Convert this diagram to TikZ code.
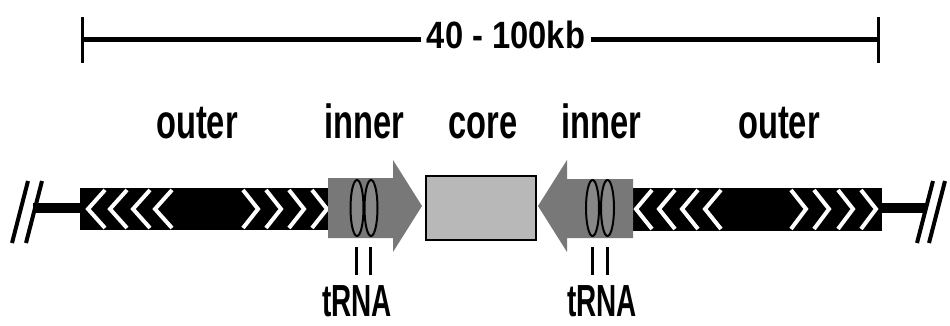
\documentclass[tikz,border=0pt]{standalone}
\usepackage{fontspec}
\newfontfamily\labfont{Liberation Sans}[FakeStretch=0.68]
\newfontfamily\barfont{Liberation Sans}[FakeStretch=0.86]
\newfontfamily\trnafont{Liberation Sans}[FakeStretch=0.62]
\definecolor{arrowgrey}{RGB}{120,120,120}
\definecolor{ovalgrey}{RGB}{135,135,135}
\definecolor{coregrey}{RGB}{184,184,184}
\begin{document}
\begin{tikzpicture}[x=1pt,y=-1pt,
  lab/.style={anchor=base,inner sep=0pt,font=\labfont\bfseries\fontsize{48}{48}\selectfont},
  trna/.style={anchor=base,inner sep=0pt,font=\trnafont\bfseries\fontsize{45}{45}\selectfont},
  bar/.style={line width=5pt},
  tick/.style={line width=3pt},
  chev/.style={white,line width=4pt},
  outerbox/.style={fill=black},
  slash/.style={line width=4pt},
  stub/.style={line width=10pt},
  inarrow/.style={fill=arrowgrey},
  oval/.style={fill=ovalgrey,draw=black,line width=2pt},
  trnatick/.style={line width=3pt}]
\useasboundingbox (0,0) rectangle (950,325);

% scale bar
\node[anchor=base,inner xsep=6pt,inner ysep=0pt,font=\barfont\bfseries\fontsize{38}{38}\selectfont] (kb) at (506,48) {40 - 100kb};
\coordinate (barL) at (82,39);
\coordinate (barR) at (878,39);
\draw[bar] (barL) -- (barL -| kb.west);
\draw[bar] (barR -| kb.east) -- (barR);
\draw[tick] (82,17) -- (82,63);
\draw[tick] (878,17) -- (878,63);

% labels
\node[lab] (outerL) at (197,138) {outer};
\node[lab] (innerL) at (364,138) {inner};
\node[lab] (core)   at (483,138) {core};
\node[lab] (innerR) at (601,138) {inner};
\node[lab] (outerR) at (779,138) {outer};

% left end
\draw[slash] (12,243) -- (28,181);
\draw[slash] (26,243) -- (42,181);
\draw[stub] (33,208) -- (82,208);
% right end
\draw[stub] (880,208) -- (925,208);
\draw[slash] (917,243) -- (933,181);
\draw[slash] (929,243) -- (945,181);

% left outer
\fill[outerbox] (80,188) rectangle (329,230);
\foreach \a in {88,110,133,155}
  \draw[chev] (\a+17,190) -- (\a,209) -- (\a+17,228);
\foreach \a in {243,266,289,312}
  \draw[chev] (\a,190) -- (\a+15,209) -- (\a,228);
% right outer
\fill[outerbox] (632,188) rectangle (882,231);
\foreach \a in {636,659,682,705}
  \draw[chev] (\a+16,190) -- (\a,209) -- (\a+16,229);
\foreach \a in {791,814,838,861}
  \draw[chev] (\a,190) -- (\a+15,209) -- (\a,229);

% inner arrows
\fill[inarrow] (328,178) -- (393,178) -- (393,160) -- (422,206) -- (393,252) -- (393,238) -- (328,238) -- cycle;
\fill[inarrow] (633,179) -- (567,179) -- (567,160) -- (538,206) -- (567,252) -- (567,238) -- (633,238) -- cycle;

% core
\draw[fill=coregrey,line width=2pt] (425.5,175.5) rectangle (535.5,240);

% tRNA ovals
\draw[oval] (357,208) ellipse [x radius=6.5, y radius=28];
\draw[oval] (371,208) ellipse [x radius=6.5, y radius=28];
\draw[oval] (592.5,208) ellipse [x radius=6.5, y radius=28];
\draw[oval] (607.5,208) ellipse [x radius=6.5, y radius=28];

% tRNA ticks and labels
\draw[trnatick] (356,247) -- (356,275);
\draw[trnatick] (370,247) -- (370,275);
\draw[trnatick] (592,247) -- (592,275);
\draw[trnatick] (607,247) -- (607,275);
\node[trna] (trnaL) at (357,316) {tRNA};
\node[trna] (trnaR) at (602,316) {tRNA};
\end{tikzpicture}
\end{document}
